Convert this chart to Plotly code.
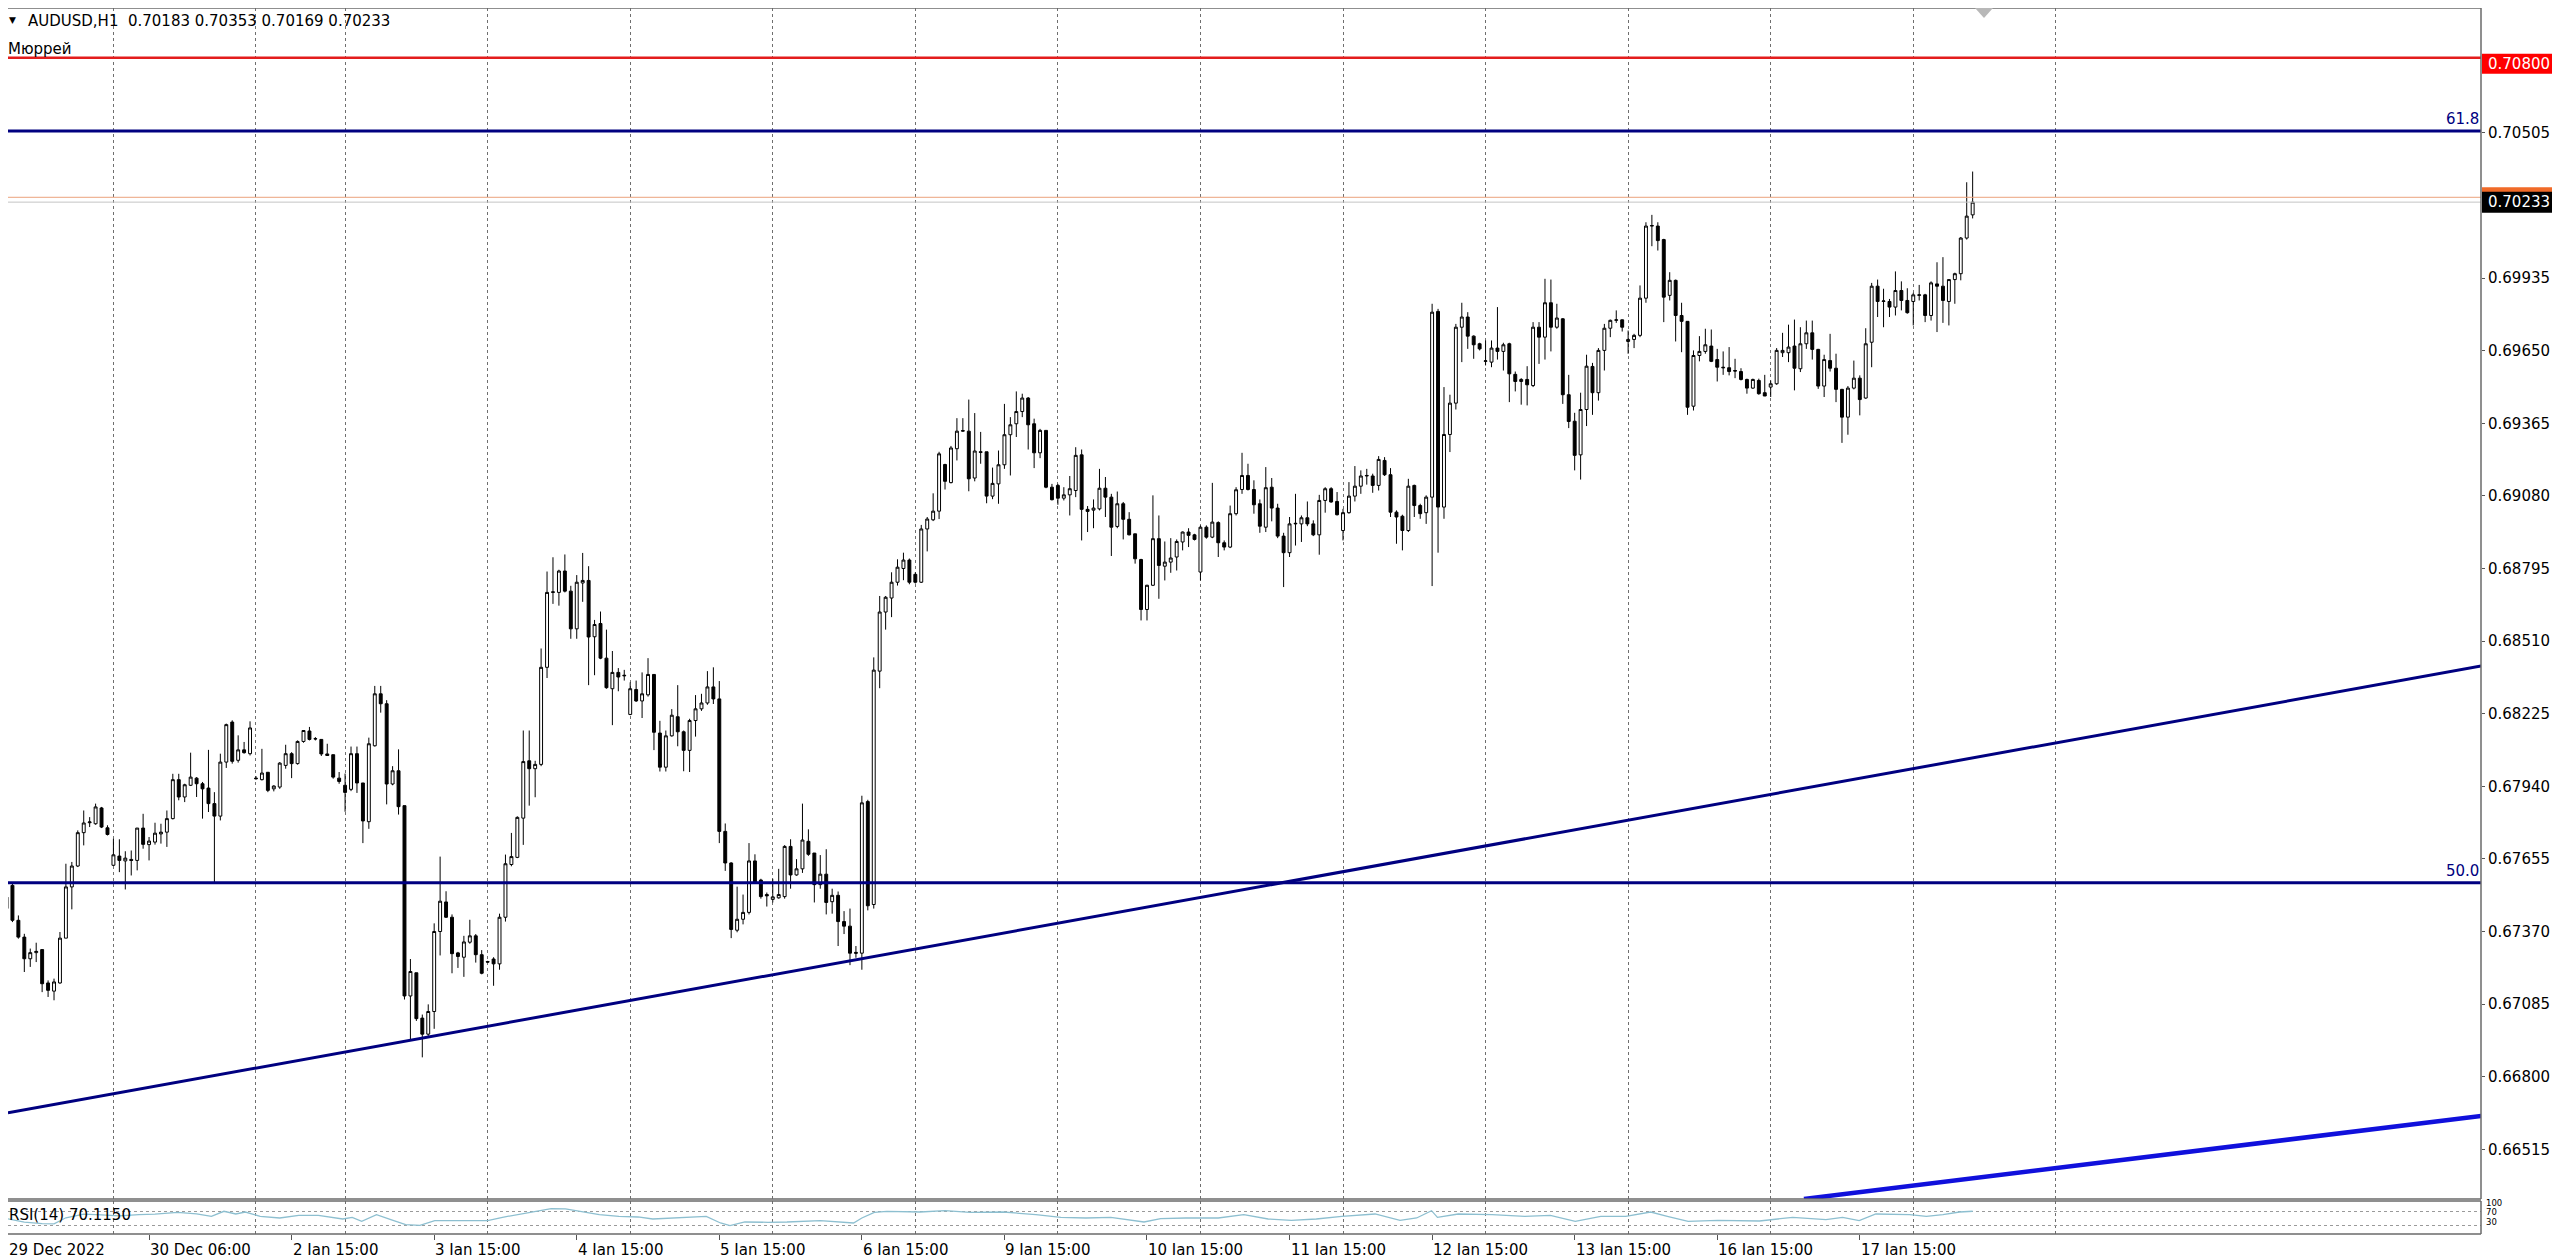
import plotly.graph_objects as go

# AUDUSD H1 candles, bar 0 = 29 Dec 2022 06:00 (partly cut at the left edge)
OPEN = [
    0.67505, 0.67551, 0.67414, 0.67348, 0.67263, 0.67287, 0.67299, 0.67168, 0.67136, 0.67168,
    0.67344, 0.67545, 0.67627, 0.67758, 0.67797, 0.67793, 0.67855, 0.67777, 0.67630, 0.67666,
    0.67647, 0.67653, 0.67649, 0.67776, 0.67711, 0.67721, 0.67753, 0.67760, 0.67813, 0.67966,
    0.67898, 0.67944, 0.67972, 0.67950, 0.67933, 0.67872, 0.67823, 0.68035, 0.68192, 0.68042,
    0.68083, 0.68068, 0.67972, 0.67966, 0.67995, 0.67930, 0.67937, 0.68022, 0.68068, 0.68029,
    0.68116, 0.68157, 0.68127, 0.68124, 0.68067, 0.68064, 0.67972, 0.67944, 0.67928, 0.68068,
    0.67953, 0.67801, 0.68099, 0.68303, 0.68264, 0.67949, 0.68001, 0.67864, 0.67117, 0.67208,
    0.67030, 0.66967, 0.67056, 0.67370, 0.67486, 0.67426, 0.67286, 0.67269, 0.67328, 0.67353,
    0.67279, 0.67252, 0.67262, 0.67243, 0.67426, 0.67633, 0.67661, 0.67815, 0.68040, 0.68009,
    0.68026, 0.68407, 0.68701, 0.68701, 0.68785, 0.68706, 0.68558, 0.68738, 0.68748, 0.68527,
    0.68579, 0.68443, 0.68323, 0.68387, 0.68376, 0.68222, 0.68320, 0.68275, 0.68299, 0.68379,
    0.68149, 0.68015, 0.68138, 0.68213, 0.68154, 0.68081, 0.68198, 0.68244, 0.68267, 0.68330,
    0.68283, 0.67763, 0.67639, 0.67375, 0.67418, 0.67445, 0.67647, 0.67572, 0.67515, 0.67496,
    0.67502, 0.67507, 0.67704, 0.67592, 0.67616, 0.67724, 0.67678, 0.67554, 0.67595, 0.67487,
    0.67512, 0.67409, 0.67391, 0.67288, 0.67285, 0.67880, 0.67476, 0.68392, 0.68624, 0.68679,
    0.68741, 0.68795, 0.68828, 0.68772, 0.68741, 0.68950, 0.68986, 0.69020, 0.69203, 0.69132,
    0.69265, 0.69334, 0.69334, 0.69150, 0.69253, 0.69253, 0.69079, 0.69127, 0.69202, 0.69320,
    0.69363, 0.69411, 0.69464, 0.69363, 0.69249, 0.69337, 0.69114, 0.69121, 0.69071, 0.69084,
    0.69101, 0.69241, 0.69027, 0.69024, 0.69029, 0.69110, 0.69075, 0.68960, 0.69049, 0.68988,
    0.68931, 0.68830, 0.68634, 0.68729, 0.68912, 0.68804, 0.68820, 0.68840, 0.68899, 0.68938,
    0.68927, 0.68781, 0.68957, 0.68918, 0.68975, 0.68896, 0.68879, 0.69010, 0.69105, 0.69160,
    0.69105, 0.69049, 0.68957, 0.69114, 0.69032, 0.68922, 0.68857, 0.68970, 0.68970, 0.68994,
    0.68970, 0.68927, 0.69062, 0.69108, 0.69058, 0.68944, 0.69014, 0.69079, 0.69118, 0.69158,
    0.69158, 0.69121, 0.69219, 0.69163, 0.69016, 0.69000, 0.68944, 0.69121, 0.69042, 0.69014,
    0.69075, 0.69804, 0.69036, 0.69321, 0.69444, 0.69742, 0.69782, 0.69707, 0.69677, 0.69608,
    0.69605, 0.69660, 0.69647, 0.69677, 0.69557, 0.69529, 0.69537, 0.69513, 0.69742, 0.69703,
    0.69838, 0.69742, 0.69775, 0.69477, 0.69373, 0.69241, 0.69419, 0.69588, 0.69485, 0.69651,
    0.69738, 0.69769, 0.69771, 0.69686, 0.69694, 0.69710, 0.69856, 0.70139, 0.70139, 0.70086,
    0.69867, 0.69926, 0.69788, 0.69765, 0.69432, 0.69631, 0.69647, 0.69668, 0.69615, 0.69585,
    0.69583, 0.69572, 0.69568, 0.69537, 0.69503, 0.69533, 0.69485, 0.69507, 0.69520, 0.69642,
    0.69642, 0.69668, 0.69579, 0.69677, 0.69720, 0.69655, 0.69511, 0.69611, 0.69581, 0.69498,
    0.69389, 0.69503, 0.69542, 0.69464, 0.69683, 0.69903, 0.69843, 0.69843, 0.69821, 0.69886,
    0.69847, 0.69843, 0.69867, 0.69869, 0.69788, 0.69912, 0.69903, 0.69843, 0.69929, 0.69952,
    0.70092, 0.70183,
]
HIGH = [
    0.67512, 0.67564, 0.67433, 0.67361, 0.67303, 0.67326, 0.67299, 0.67178, 0.67185, 0.67368,
    0.67636, 0.67643, 0.67767, 0.67845, 0.67819, 0.67872, 0.67859, 0.67787, 0.67734, 0.67732,
    0.67685, 0.67688, 0.67776, 0.67832, 0.67741, 0.67797, 0.67793, 0.67845, 0.67989, 0.67989,
    0.67950, 0.68072, 0.67976, 0.67957, 0.68083, 0.67917, 0.68068, 0.68186, 0.68199, 0.68140,
    0.68114, 0.68195, 0.67980, 0.68087, 0.67996, 0.67944, 0.68035, 0.68103, 0.68074, 0.68120,
    0.68159, 0.68173, 0.68133, 0.68124, 0.68107, 0.68064, 0.67996, 0.67990, 0.68096, 0.68096,
    0.67953, 0.68131, 0.68334, 0.68334, 0.68278, 0.68019, 0.68085, 0.67864, 0.67262, 0.67208,
    0.67044, 0.67084, 0.67402, 0.67664, 0.67528, 0.67437, 0.67290, 0.67353, 0.67416, 0.67360,
    0.67297, 0.67255, 0.67269, 0.67440, 0.67672, 0.67757, 0.67822, 0.68159, 0.68159, 0.68040,
    0.68481, 0.68783, 0.68839, 0.68790, 0.68850, 0.68727, 0.68769, 0.68856, 0.68804, 0.68593,
    0.68626, 0.68555, 0.68471, 0.68404, 0.68397, 0.68348, 0.68355, 0.68387, 0.68443, 0.68379,
    0.68197, 0.68159, 0.68243, 0.68337, 0.68159, 0.68205, 0.68298, 0.68303, 0.68392, 0.68407,
    0.68353, 0.67794, 0.67642, 0.67546, 0.67515, 0.67717, 0.67673, 0.67577, 0.67523, 0.67577,
    0.67616, 0.67709, 0.67732, 0.67654, 0.67872, 0.67771, 0.67678, 0.67670, 0.67693, 0.67538,
    0.67527, 0.67450, 0.67460, 0.67313, 0.67903, 0.67887, 0.68446, 0.68687, 0.68687, 0.68780,
    0.68831, 0.68857, 0.68834, 0.68780, 0.68966, 0.68997, 0.69090, 0.69253, 0.69206, 0.69276,
    0.69385, 0.69385, 0.69458, 0.69405, 0.69331, 0.69253, 0.69191, 0.69258, 0.69441, 0.69389,
    0.69490, 0.69481, 0.69468, 0.69383, 0.69343, 0.69337, 0.69127, 0.69127, 0.69114, 0.69158,
    0.69271, 0.69262, 0.69040, 0.69066, 0.69186, 0.69154, 0.69088, 0.69097, 0.69056, 0.69016,
    0.68931, 0.68833, 0.68731, 0.69082, 0.69003, 0.68901, 0.68914, 0.68909, 0.68940, 0.68953,
    0.68931, 0.68964, 0.68964, 0.69131, 0.68980, 0.68905, 0.69042, 0.69114, 0.69249, 0.69206,
    0.69141, 0.69066, 0.69193, 0.69150, 0.69049, 0.68935, 0.68997, 0.69088, 0.69003, 0.69058,
    0.68984, 0.69084, 0.69114, 0.69114, 0.69095, 0.69029, 0.69134, 0.69197, 0.69180, 0.69186,
    0.69167, 0.69236, 0.69232, 0.69189, 0.69023, 0.69006, 0.69147, 0.69124, 0.69049, 0.69082,
    0.69834, 0.69814, 0.69507, 0.69477, 0.69755, 0.69838, 0.69801, 0.69710, 0.69681, 0.69690,
    0.69690, 0.69821, 0.69681, 0.69681, 0.69568, 0.69542, 0.69589, 0.69762, 0.69762, 0.69932,
    0.69929, 0.69834, 0.69778, 0.69555, 0.69406, 0.69485, 0.69634, 0.69602, 0.69660, 0.69755,
    0.69772, 0.69808, 0.69772, 0.69729, 0.69716, 0.69906, 0.70154, 0.70183, 0.70154, 0.70089,
    0.69958, 0.69929, 0.69838, 0.69765, 0.69651, 0.69707, 0.69736, 0.69733, 0.69657, 0.69647,
    0.69664, 0.69618, 0.69581, 0.69540, 0.69540, 0.69540, 0.69555, 0.69533, 0.69660, 0.69720,
    0.69752, 0.69772, 0.69742, 0.69768, 0.69768, 0.69657, 0.69634, 0.69716, 0.69638, 0.69500,
    0.69511, 0.69611, 0.69553, 0.69738, 0.69916, 0.69929, 0.69893, 0.69853, 0.69961, 0.69922,
    0.69895, 0.69877, 0.69908, 0.69873, 0.69922, 0.69997, 0.70017, 0.69929, 0.69956, 0.70096,
    0.70311, 0.70353,
]
LOW = [
    0.67453, 0.67407, 0.67342, 0.67211, 0.67231, 0.67250, 0.67132, 0.67113, 0.67100, 0.67165,
    0.67344, 0.67457, 0.67623, 0.67708, 0.67780, 0.67789, 0.67776, 0.67747, 0.67627, 0.67603,
    0.67535, 0.67590, 0.67610, 0.67695, 0.67649, 0.67711, 0.67715, 0.67702, 0.67810, 0.67885,
    0.67878, 0.67941, 0.67898, 0.67813, 0.67839, 0.67564, 0.67806, 0.68012, 0.68029, 0.68033,
    0.68068, 0.68061, 0.67966, 0.67963, 0.67917, 0.67920, 0.67930, 0.68009, 0.67972, 0.68025,
    0.68111, 0.68120, 0.68120, 0.68059, 0.68059, 0.67970, 0.67950, 0.67840, 0.67921, 0.67914,
    0.67717, 0.67773, 0.68096, 0.68229, 0.67869, 0.67944, 0.67829, 0.67103, 0.66946, 0.67019,
    0.66876, 0.66960, 0.66988, 0.67276, 0.67423, 0.67206, 0.67227, 0.67192, 0.67322, 0.67248,
    0.67202, 0.67248, 0.67157, 0.67220, 0.67409, 0.67626, 0.67658, 0.67710, 0.67864, 0.67897,
    0.68019, 0.68365, 0.68656, 0.68649, 0.68701, 0.68519, 0.68519, 0.68664, 0.68337, 0.68376,
    0.68439, 0.68323, 0.68180, 0.68313, 0.68355, 0.68219, 0.68271, 0.68208, 0.68292, 0.68082,
    0.67998, 0.67998, 0.68135, 0.68097, 0.67999, 0.67996, 0.68135, 0.68236, 0.68260, 0.68263,
    0.67717, 0.67608, 0.67344, 0.67367, 0.67398, 0.67437, 0.67558, 0.67499, 0.67468, 0.67484,
    0.67499, 0.67499, 0.67538, 0.67589, 0.67600, 0.67667, 0.67484, 0.67538, 0.67437, 0.67440,
    0.67313, 0.67360, 0.67238, 0.67267, 0.67220, 0.67453, 0.67460, 0.68325, 0.68555, 0.68604,
    0.68728, 0.68749, 0.68733, 0.68736, 0.68738, 0.68862, 0.68981, 0.68989, 0.69105, 0.69129,
    0.69219, 0.69331, 0.69098, 0.69137, 0.69206, 0.69051, 0.69067, 0.69049, 0.69186, 0.69160,
    0.69311, 0.69389, 0.69262, 0.69189, 0.69228, 0.69110, 0.69062, 0.69045, 0.69062, 0.69003,
    0.69075, 0.68905, 0.68938, 0.68953, 0.69023, 0.68997, 0.68844, 0.68953, 0.68909, 0.68925,
    0.68814, 0.68591, 0.68591, 0.68726, 0.68676, 0.68748, 0.68778, 0.68787, 0.68866, 0.68879,
    0.68905, 0.68748, 0.68912, 0.68914, 0.68840, 0.68866, 0.68875, 0.69003, 0.69088, 0.69101,
    0.69010, 0.68935, 0.68938, 0.68980, 0.68914, 0.68722, 0.68840, 0.68885, 0.68899, 0.68961,
    0.68922, 0.68849, 0.69014, 0.69053, 0.69003, 0.68905, 0.69010, 0.69058, 0.69088, 0.69124,
    0.69092, 0.69101, 0.69158, 0.68997, 0.68892, 0.68866, 0.68938, 0.68997, 0.68990, 0.68970,
    0.68726, 0.68857, 0.68990, 0.69252, 0.69419, 0.69605, 0.69657, 0.69618, 0.69651, 0.69592,
    0.69585, 0.69615, 0.69572, 0.69448, 0.69490, 0.69438, 0.69435, 0.69507, 0.69598, 0.69615,
    0.69647, 0.69736, 0.69441, 0.69346, 0.69180, 0.69144, 0.69354, 0.69398, 0.69454, 0.69572,
    0.69703, 0.69759, 0.69725, 0.69638, 0.69660, 0.69703, 0.69838, 0.70060, 0.70043, 0.69762,
    0.69847, 0.69686, 0.69644, 0.69398, 0.69415, 0.69608, 0.69638, 0.69605, 0.69529, 0.69555,
    0.69553, 0.69542, 0.69533, 0.69481, 0.69500, 0.69477, 0.69472, 0.69468, 0.69516, 0.69625,
    0.69605, 0.69494, 0.69566, 0.69657, 0.69615, 0.69500, 0.69468, 0.69568, 0.69448, 0.69288,
    0.69320, 0.69498, 0.69396, 0.69461, 0.69585, 0.69782, 0.69742, 0.69782, 0.69788, 0.69808,
    0.69795, 0.69749, 0.69847, 0.69762, 0.69768, 0.69723, 0.69759, 0.69749, 0.69834, 0.69926,
    0.70086, 0.70169,
]
CLOSE = [
    0.67460, 0.67414, 0.67348, 0.67263, 0.67287, 0.67292, 0.67165, 0.67139, 0.67172, 0.67344,
    0.67545, 0.67627, 0.67758, 0.67796, 0.67800, 0.67859, 0.67780, 0.67751, 0.67671, 0.67649,
    0.67658, 0.67649, 0.67776, 0.67712, 0.67725, 0.67756, 0.67760, 0.67813, 0.67966, 0.67898,
    0.67946, 0.67976, 0.67950, 0.67930, 0.67872, 0.67823, 0.68035, 0.68182, 0.68038, 0.68083,
    0.68072, 0.68169, 0.67970, 0.67992, 0.67924, 0.67941, 0.68031, 0.68068, 0.68029, 0.68116,
    0.68159, 0.68124, 0.68126, 0.68067, 0.68061, 0.67976, 0.67959, 0.67916, 0.68068, 0.67953,
    0.67804, 0.68107, 0.68303, 0.68264, 0.67949, 0.68001, 0.67860, 0.67117, 0.67213, 0.67028,
    0.66967, 0.67056, 0.67370, 0.67489, 0.67426, 0.67283, 0.67272, 0.67329, 0.67353, 0.67279,
    0.67206, 0.67250, 0.67243, 0.67426, 0.67636, 0.67664, 0.67818, 0.68037, 0.68009, 0.68026,
    0.68407, 0.68701, 0.68703, 0.68785, 0.68706, 0.68558, 0.68741, 0.68748, 0.68526, 0.68575,
    0.68443, 0.68327, 0.68387, 0.68369, 0.68374, 0.68323, 0.68275, 0.68303, 0.68379, 0.68152,
    0.68015, 0.68138, 0.68219, 0.68154, 0.68081, 0.68198, 0.68244, 0.68267, 0.68330, 0.68283,
    0.67763, 0.67639, 0.67378, 0.67418, 0.67445, 0.67647, 0.67561, 0.67507, 0.67510, 0.67506,
    0.67515, 0.67704, 0.67592, 0.67616, 0.67729, 0.67673, 0.67554, 0.67595, 0.67484, 0.67512,
    0.67409, 0.67391, 0.67285, 0.67285, 0.67875, 0.67471, 0.68396, 0.68624, 0.68682, 0.68741,
    0.68800, 0.68828, 0.68741, 0.68741, 0.68950, 0.68989, 0.69020, 0.69245, 0.69137, 0.69268,
    0.69334, 0.69336, 0.69147, 0.69256, 0.69251, 0.69079, 0.69129, 0.69202, 0.69320, 0.69359,
    0.69411, 0.69464, 0.69359, 0.69249, 0.69337, 0.69114, 0.69065, 0.69071, 0.69084, 0.69108,
    0.69239, 0.69027, 0.69019, 0.69032, 0.69110, 0.69075, 0.68957, 0.69049, 0.68988, 0.68927,
    0.68833, 0.68634, 0.68729, 0.68912, 0.68807, 0.68820, 0.68836, 0.68901, 0.68938, 0.68925,
    0.68909, 0.68957, 0.68918, 0.68977, 0.68896, 0.68879, 0.69010, 0.69104, 0.69160, 0.69105,
    0.69045, 0.68961, 0.69112, 0.69032, 0.68922, 0.68857, 0.68970, 0.68972, 0.68994, 0.68970,
    0.68927, 0.69062, 0.69108, 0.69056, 0.69006, 0.69014, 0.69079, 0.69118, 0.69158, 0.69160,
    0.69121, 0.69223, 0.69163, 0.69016, 0.68997, 0.68944, 0.69118, 0.69042, 0.69010, 0.69075,
    0.69801, 0.69036, 0.69321, 0.69444, 0.69742, 0.69782, 0.69707, 0.69673, 0.69657, 0.69610,
    0.69660, 0.69647, 0.69673, 0.69559, 0.69529, 0.69537, 0.69516, 0.69742, 0.69703, 0.69838,
    0.69742, 0.69778, 0.69477, 0.69372, 0.69239, 0.69419, 0.69589, 0.69485, 0.69651, 0.69738,
    0.69769, 0.69771, 0.69742, 0.69694, 0.69710, 0.69856, 0.70139, 0.70141, 0.70082, 0.69860,
    0.69926, 0.69788, 0.69765, 0.69428, 0.69631, 0.69647, 0.69673, 0.69608, 0.69585, 0.69583,
    0.69568, 0.69570, 0.69537, 0.69503, 0.69537, 0.69481, 0.69472, 0.69520, 0.69651, 0.69651,
    0.69664, 0.69581, 0.69677, 0.69720, 0.69655, 0.69511, 0.69615, 0.69581, 0.69498, 0.69389,
    0.69503, 0.69542, 0.69458, 0.69677, 0.69903, 0.69843, 0.69845, 0.69821, 0.69886, 0.69847,
    0.69799, 0.69869, 0.69869, 0.69788, 0.69916, 0.69903, 0.69847, 0.69929, 0.69952, 0.70092,
    0.70178, 0.70233,
]
BARS = list(range(len(OPEN)))

# RSI(14) sub-window, sampled along the drawn line
RSI_BARS = [
    0, 3, 6, 8, 10, 13, 16, 19, 22.3, 25, 28.8, 32, 34.5, 36.6, 38.6, 40.2, 42.7, 46.0, 49.2, 52.5,
    56.6, 58.2, 59.8, 62.3, 64.7, 67.2, 69.6, 72.1, 78.6, 81.0, 83.5, 86.8, 90.0, 91.7, 94.1, 96.5,
    99.8, 103.1, 106.3, 108.8, 112.0, 117.8, 120.2, 121.8, 124.3, 126.0, 128.2, 131.4, 137.0, 142.6,
    144.0, 146.1, 148.2, 153.8, 158.0, 162.2, 167.8, 173.3, 177.5, 181.7, 185.9, 191.5, 194.3, 198.5,
    204.0, 208.3, 212.4, 216.3, 220.5, 224.8, 230.4, 234.6, 237.4, 239.9, 240.9, 244.4, 250.1, 255.6,
    259.9, 264.1, 268.4, 272.6, 276.8, 279.6, 283.1, 288.1, 295.1, 300.7, 306.3, 309.1, 311.9, 314.7,
    320.4, 323.2, 326.0, 328.8, 331.0,
]
RSI_VALUES = [
    50, 40, 36, 35, 52, 62, 60, 57, 60.7, 62, 67.2, 63, 56, 70, 62.5, 68, 56, 51.4, 58.8, 58.8,
    48.6, 53.3, 42.2, 60.7, 46.8, 32.9, 31, 44, 44, 44, 53.3, 62.5, 71.8, 77.4, 76.5, 70,
    60.7, 56, 54.2, 48.6, 51.4, 56, 37.5, 30, 40.3, 39.4, 39.4, 40.3, 44, 37.5,
    51.4, 67, 70, 68, 71.7, 67, 68, 60.6, 53.2, 51.4, 53.2, 40.3, 49.5, 51.4,
    51.4, 60.6, 48.6, 45, 48.6, 56, 62.5, 45, 51.4, 71.7, 53.2, 62.5, 60.6, 56,
    58.8, 42.1, 56, 56, 68, 56, 42.1, 45, 43, 53.2, 46.8, 53.2, 44, 62.5,
    60.6, 56, 60.6, 68, 70.1,
]

TIME_LABEL_BARS = [0, 24, 48, 72, 96, 120, 144, 168, 192, 216, 240, 264, 288, 312]
TIME_LABELS = ["29 Dec 2022", "30 Dec 06:00", "2 Jan 15:00", "3 Jan 15:00", "4 Jan 15:00",
               "5 Jan 15:00", "6 Jan 15:00", "9 Jan 15:00", "10 Jan 15:00", "11 Jan 15:00",
               "12 Jan 15:00", "13 Jan 15:00", "16 Jan 15:00", "17 Jan 15:00"]
DAY_START_BARS = [18, 42, 57, 81, 105, 129, 153, 177, 201, 225, 249, 273, 297, 321, 345]

PRICE_TICKS = [0.66515, 0.66800, 0.67085, 0.67370, 0.67655, 0.67940, 0.68225, 0.68510,
               0.68795, 0.69080, 0.69365, 0.69650, 0.69935, 0.70505]
RSI_SCALE_TEXT = ["100", "70", "30"]
RED_LEVEL = 0.70800
FIBO_TEXT = ["61.8", "50.0"]
FIBO_PRICES = [0.70512, 0.67561]
BID_PRICE = 0.70233
ASK_PRICE = 0.70252
TREND_MAIN_X = [0.25, 416.6]
TREND_MAIN_Y = [0.66658, 0.68412]
TREND_BLUE_X = [302.6, 416.6]
TREND_BLUE_Y = [0.66320, 0.66646]

SYMBOL_TEXT = "AUDUSD,H1  0.70183 0.70353 0.70169 0.70233"
INDICATOR_TEXT = "Мюррей"
RSI_TEXT = "RSI(14) 70.1150"

# ---- geometry (pixels of the 2560x1255 window) ----
W, H = 2560, 1255
PLOT_W, PLOT_H = 2473, 1226
MAIN_BOTTOM = 1191
RSI_TOP = 1193
X_RANGE = [0.2525, 416.58]
Y_RANGE = [0.66320, 0.70995]
RSI_RANGE = [6.9, 98.6]
FONT = "DejaVu Sans, Verdana, sans-serif"
NAVY = "#000080"


def fx(px):
    return px / PLOT_W


def fy(py):
    return 1 - py / PLOT_H


def price_to_py(p):
    return (Y_RANGE[1] - p) / (Y_RANGE[1] - Y_RANGE[0]) * MAIN_BOTTOM


fig = go.Figure()

fig.add_trace(go.Candlestick(
    x=BARS, open=OPEN, high=HIGH, low=LOW, close=CLOSE,
    increasing=dict(line=dict(color="black", width=1), fillcolor="white"),
    decreasing=dict(line=dict(color="black", width=1), fillcolor="black"),
    whiskerwidth=0, showlegend=False, hoverinfo="skip",
    xaxis="x", yaxis="y",
))

fig.add_trace(go.Scatter(
    x=RSI_BARS, y=RSI_VALUES, mode="lines",
    line=dict(color="#8dbfd0", width=1.3),
    showlegend=False, hoverinfo="skip", xaxis="x", yaxis="y2",
))

shapes = []


# chart objects: horizontal levels and trend lines
def hline(price, color, width):
    return dict(type="line", xref="x", yref="y", x0=-50, x1=500, y0=price, y1=price,
                line=dict(color=color, width=width), layer="above")


shapes.append(hline(BID_PRICE, "#c4c4c4", 1))
shapes.append(hline(ASK_PRICE, "#eba27c", 1))
shapes.append(hline(RED_LEVEL, "#e31d1d", 2.5))
for p in FIBO_PRICES:
    shapes.append(hline(p, NAVY, 3))
shapes.append(dict(type="line", xref="x", yref="y",
                   x0=TREND_MAIN_X[0], x1=TREND_MAIN_X[1], y0=TREND_MAIN_Y[0], y1=TREND_MAIN_Y[1],
                   line=dict(color=NAVY, width=3), layer="above"))
shapes.append(dict(type="line", xref="x", yref="y",
                   x0=TREND_BLUE_X[0], x1=TREND_BLUE_X[1], y0=TREND_BLUE_Y[0], y1=TREND_BLUE_Y[1],
                   line=dict(color="#1010dc", width=4.5), layer="above"))

# window frames (no left edge, like the terminal)
for yref in ["y domain", "y2 domain"]:
    for x0, x1, y0, y1 in [(0, 1, 1, 1), (0, 1, 0, 0), (1, 1, 0, 1)]:
        shapes.append(dict(type="line", xref="x domain", yref=yref, x0=x0, x1=x1, y0=y0, y1=y1,
                           line=dict(color="#6a6a6a", width=1.5), layer="above"))

# chart shift marker at the top
shapes.append(dict(type="path", xref="paper", yref="paper",
                   path=f"M {fx(1967)} {fy(0)} L {fx(1985)} {fy(0)} L {fx(1976)} {fy(10)} Z",
                   fillcolor="#b8b8b8", line=dict(width=0), layer="above"))

# price scale boxes
red_py = price_to_py(RED_LEVEL) + 6
bid_py = price_to_py(BID_PRICE)
shapes.append(dict(type="rect", xref="paper", yref="paper",
                   x0=fx(2474), x1=fx(2547), y0=fy(red_py - 10), y1=fy(red_py + 10),
                   fillcolor="#ff0000", line=dict(width=0), layer="above"))
shapes.append(dict(type="rect", xref="paper", yref="paper",
                   x0=fx(2474), x1=fx(2547), y0=fy(bid_py - 15), y1=fy(bid_py + 6),
                   fillcolor="#f06a28", line=dict(width=0), layer="above"))
shapes.append(dict(type="rect", xref="paper", yref="paper",
                   x0=fx(2474), x1=fx(2547), y0=fy(bid_py - 10.5), y1=fy(bid_py + 10.5),
                   fillcolor="#000000", line=dict(width=0), layer="above"))

annotations = []


def text(x, y, s, color="black", xanchor="left", yanchor="middle", size=15, xref="paper"):
    annotations.append(dict(x=x, y=y, xref=xref, yref="paper", text=s, showarrow=False,
                            xanchor=xanchor, yanchor=yanchor, borderpad=0,
                            font=dict(family=FONT, size=size, color=color)))


text(fx(0), fy(12), "▼", size=9)
text(fx(19), fy(13), SYMBOL_TEXT)
text(fx(-1), fy(41), INDICATOR_TEXT)
for label, p in zip(FIBO_TEXT, FIBO_PRICES):
    text(fx(2472), fy(price_to_py(p) - 2), label, color=NAVY, xanchor="right", yanchor="bottom")
text(fx(2511), fy(red_py), f"{RED_LEVEL:.5f}", color="white", xanchor="center")
text(fx(2511), fy(bid_py), f"{BID_PRICE:.5f}", color="white", xanchor="center")
text(fx(0), fy(1207), RSI_TEXT)
# RSI scale: the tiny sub-window squeezes 100 / 70 / 30 into one stack
for s, py in zip(RSI_SCALE_TEXT, [1194.5, 1204, 1213.5]):
    text(fx(2477), fy(py), s, size=8.5)
for b, s in zip(TIME_LABEL_BARS, TIME_LABELS):
    text(max(b, X_RANGE[0]), fy(1241.5), s, xref="x")

fig.update_layout(
    width=W, height=H,
    margin=dict(l=0, r=W - PLOT_W, t=0, b=H - PLOT_H),
    paper_bgcolor="white", plot_bgcolor="white",
    showlegend=False,
    font=dict(family=FONT, size=15, color="black"),
    xaxis=dict(
        domain=[0, 1], range=X_RANGE, anchor="y2",
        rangeslider=dict(visible=False),
        showgrid=False, zeroline=False, showline=False,
        tickmode="array", tickvals=TIME_LABEL_BARS, showticklabels=False,
        ticks="outside", ticklen=5, tickcolor="#555555", tickwidth=1,
        minor=dict(tickmode="array", tickvals=DAY_START_BARS, showgrid=True,
                   gridcolor="#6f6f6f", griddash="dot", gridwidth=1, ticks=""),
        fixedrange=True,
    ),
    yaxis=dict(
        domain=[fy(MAIN_BOTTOM), 1], range=Y_RANGE, anchor="x", side="right",
        showgrid=False, zeroline=False, showline=False,
        tickmode="array", tickvals=PRICE_TICKS, ticktext=[f"{v:.5f}" for v in PRICE_TICKS],
        ticks="outside", ticklen=3, tickcolor="#555555",
        tickfont=dict(family=FONT, size=15, color="black"),
        fixedrange=True,
    ),
    yaxis2=dict(
        domain=[0, fy(RSI_TOP)], range=RSI_RANGE, anchor="x", side="right",
        showgrid=True, gridcolor="#9a9a9a", griddash="dot", gridwidth=1,
        tickmode="array", tickvals=[30, 70], showticklabels=False, ticks="",
        zeroline=False, showline=False, fixedrange=True,
    ),
    shapes=shapes,
    annotations=annotations,
)

fig.write_html("out.html", config={"displayModeBar": False})
